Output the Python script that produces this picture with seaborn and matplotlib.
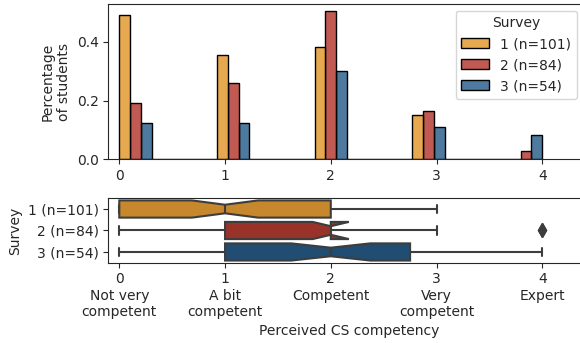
import matplotlib
matplotlib.use("Agg")
import matplotlib.pyplot as plt
import numpy as np
import pandas as pd
import seaborn as sns

# Perceived CS competency levels
levels = [0, 1, 2, 3, 4]
level_names = ["Not very\ncompetent", "A bit\ncompetent", "Competent",
               "Very\ncompetent", "Expert"]

# Survey waves and number of students answering each level
surveys = ["1 (n=101)", "2 (n=84)", "3 (n=54)"]
counts_s1 = [36, 26, 28, 11, 0]
counts_s2 = [14, 19, 37, 12, 2]
counts_s3 = [9, 9, 22, 8, 6]

palette = ["#E08C14", "#AB2318", "#144E80"]

# Expand the counts into one row per student response
rows = []
for name, counts in zip(surveys, [counts_s1, counts_s2, counts_s3]):
    for lvl, c in zip(levels, counts):
        rows += [(name, lvl)] * c
df = pd.DataFrame(rows, columns=["Survey", "Competency"])

sns.set_style("ticks")
plt.rcParams["font.family"] = ["DejaVu Sans"]
plt.rcParams["font.size"] = 10

fig = plt.figure(figsize=(5.8, 3.43), dpi=100)
ax1 = fig.add_axes([0.1867, 0.5356, 0.8305, 0.4527])
ax2 = fig.add_axes([0.1867, 0.2341, 0.8305, 0.1878])
xlim = (-0.104, 4.451)

# Distribution of answers per survey
sns.histplot(data=df, x="Competency", hue="Survey", hue_order=surveys,
             palette=palette, bins=13, binrange=(0, 4), stat="density",
             common_norm=True, multiple="dodge", shrink=1,
             edgecolor="black", linewidth=1, ax=ax1)
ax1.set_xlim(xlim)
ax1.set_xticks(levels)
ax1.set_xlabel("")
ax1.set_ylabel("Percentage\nof students")
ax1.set_yticks([0.0, 0.2, 0.4])
sns.move_legend(ax1, "upper right", bbox_to_anchor=(0.9943, 0.9688),
                bbox_transform=fig.transFigure, borderaxespad=0,
                title="Survey", fontsize=10, title_fontsize=10)

# Notched box plots of the same answers
sns.boxplot(data=df, x="Competency", y="Survey", hue="Survey",
            order=surveys, hue_order=surveys, palette=palette,
            notch=True, linecolor="#3d3d3d", linewidth=1.5,
            fliersize=7,
            flierprops=dict(marker="d", markerfacecolor="#3d3d3d",
                            markeredgecolor="#3d3d3d"),
            legend=False, ax=ax2)
ax2.set_xlim(xlim)
ax2.set_xticks(levels)
ax2.set_xticklabels([f"{l}\n{n}" for l, n in zip(levels, level_names)])
ax2.set_xlabel("Perceived CS competency")
ax2.set_ylabel("Survey")

fig.savefig("out.png", dpi=100)
